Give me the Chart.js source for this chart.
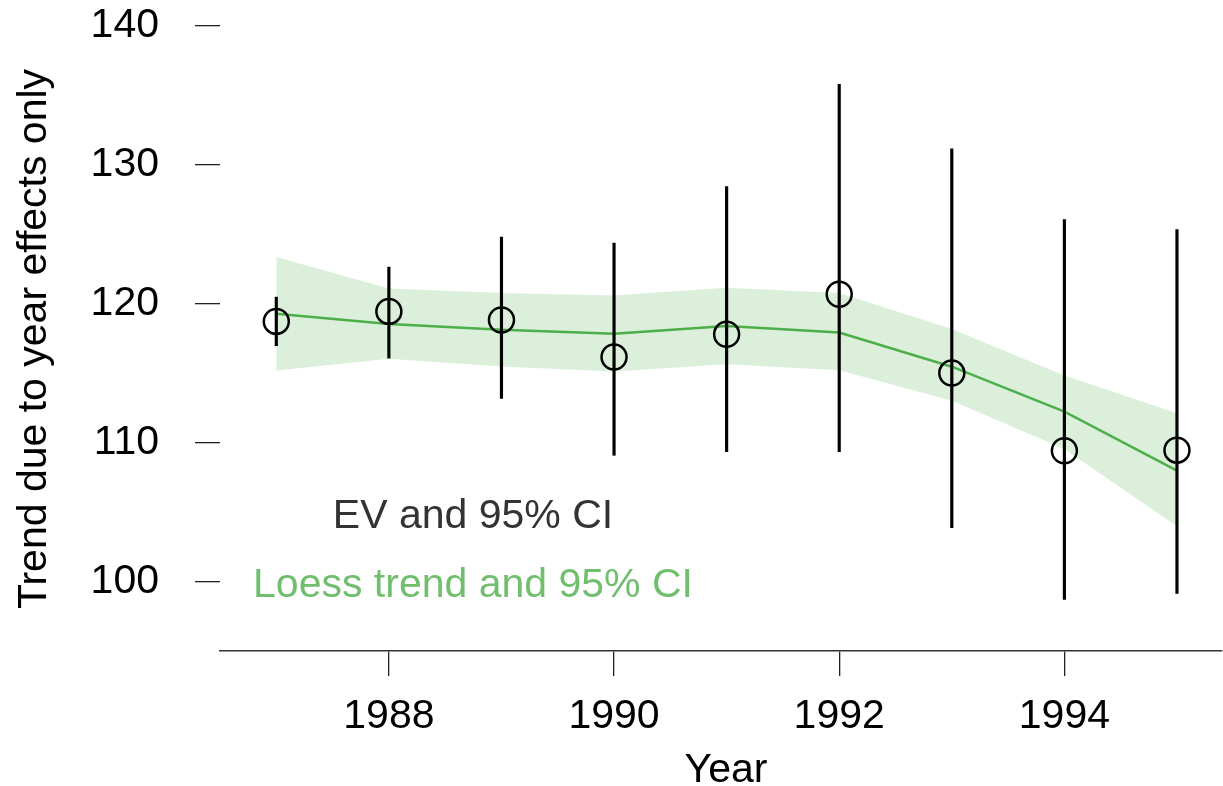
<!DOCTYPE html>
<html>
<head>
<meta charset="utf-8">
<script src="https://cdn.jsdelivr.net/npm/chart.js@4/dist/chart.umd.min.js"></script>
<style>
  html, body { margin: 0; padding: 0; background: #fff; }
  canvas { display: block; }
</style>
</head>
<body>
<canvas id="trendChart" width="1223" height="786"></canvas>
<script>
// year effects: expected value with 95% interval
var years = [1987, 1988, 1989, 1990, 1991, 1992, 1993, 1994, 1995];
var ev = [118.73, 119.45, 118.83, 116.17, 117.80, 120.69, 115.01, 109.42, 109.46];
var evLow = [116.98, 116.09, 113.19, 109.09, 109.35, 109.35, 103.88, 98.71, 99.14];
var evHigh = [120.48, 122.64, 124.80, 124.37, 128.44, 135.80, 131.15, 126.06, 125.34];

// loess smooth and its 95% band
var loess = [119.28, 118.54, 118.13, 117.84, 118.40, 117.93, 115.47, 112.24, 107.99];
var loessLow = [115.20, 116.04, 115.49, 115.13, 115.65, 115.22, 113.02, 109.54, 103.99];
var loessHigh = [123.36, 121.10, 120.77, 120.60, 121.15, 120.77, 118.19, 114.83, 112.12];

var xTicks = [1988, 1990, 1992, 1994];
var yTicks = [100, 110, 120, 130, 140];

var green = '#4daf4a';
var fontFamily = '"Liberation Sans", Arial, Helvetica, sans-serif';

function points(vals) {
    return years.map(function(x, i) { return {x: x, y: vals[i]}; });
}

// legend lines and axis titles, drawn as plain text
var textPlugin = {
    id: 'textPlugin',
    afterDraw: function(chart) {
        var ctx = chart.ctx;
        ctx.save();
        ctx.font = '41px ' + fontFamily;
        ctx.textAlign = 'center';
        ctx.textBaseline = 'alphabetic';

        ctx.fillStyle = '#333333';
        ctx.fillText('EV and 95% CI', 473, 528);
        ctx.fillStyle = 'rgba(77, 175, 74, 0.8)';
        ctx.fillText('Loess trend and 95% CI', 473, 597);

        ctx.fillStyle = '#000';
        ctx.fillText('Year', 726, 782);

        ctx.translate(46, 339);
        ctx.rotate(-Math.PI / 2);
        ctx.fillText('Trend due to year effects only', 0, 0);
        ctx.restore();
    }
};

var ctx = document.getElementById('trendChart').getContext('2d');
var myChart = new Chart(ctx, {
    type: 'line',
    data: {
        datasets: [{
            label: 'EV',
            data: points(ev),
            showLine: false,
            pointStyle: 'circle',
            pointRadius: 12.5,
            pointBorderWidth: 2.5,
            pointBorderColor: '#000',
            pointBackgroundColor: 'rgba(0,0,0,0)',
            order: 0
        }, {
            type: 'bar',
            label: '95% CI',
            data: years.map(function(x, i) { return {x: x, y: [evLow[i], evHigh[i]]}; }),
            backgroundColor: '#000',
            borderWidth: 0,
            barThickness: 2.5,
            order: 1
        }, {
            label: 'Loess trend',
            data: points(loess),
            borderColor: green,
            borderWidth: 2.5,
            pointRadius: 0,
            tension: 0,
            fill: false,
            order: 2
        }, {
            label: 'Loess upper',
            data: points(loessHigh),
            borderWidth: 0,
            borderColor: 'rgba(0,0,0,0)',
            backgroundColor: 'rgba(77, 175, 74, 0.2)',
            pointRadius: 0,
            tension: 0,
            fill: '+1',
            order: 3
        }, {
            label: 'Loess lower',
            data: points(loessLow),
            borderWidth: 0,
            borderColor: 'rgba(0,0,0,0)',
            pointRadius: 0,
            tension: 0,
            fill: false,
            order: 4
        }]
    },
    options: {
        responsive: false,
        devicePixelRatio: 1,
        animation: false,
        layout: {
            autoPadding: false,
            padding: {top: 1, right: 1, left: 0, bottom: 0}
        },
        scales: {
            x: {
                type: 'linear',
                offset: false,
                min: 1986.5,
                max: 1995.4,
                afterBuildTicks: function(scale) {
                    scale.ticks = xTicks.map(function(v) { return {value: v}; });
                },
                afterFit: function(scale) {
                    scale.height = 135;
                    scale.paddingLeft = 0;
                    scale.paddingRight = 0;
                },
                grid: {
                    offset: false,
                    drawOnChartArea: false,
                    tickLength: 25,
                    color: '#222',
                    lineWidth: 1.3
                },
                border: {display: true, color: '#333', width: 1.5},
                ticks: {
                    color: '#000',
                    padding: 20,
                    maxRotation: 0,
                    font: {family: fontFamily, size: 41, lineHeight: 1},
                    callback: function(v) { return String(v); }
                }
            },
            y: {
                type: 'linear',
                min: 95,
                max: 141.8,
                afterBuildTicks: function(scale) {
                    scale.ticks = yTicks.map(function(v) { return {value: v}; });
                },
                afterFit: function(scale) {
                    scale.width = 220;
                    scale.paddingTop = 0;
                    scale.paddingBottom = 0;
                },
                grid: {
                    drawOnChartArea: false,
                    tickLength: 25,
                    color: '#222',
                    lineWidth: 1.3
                },
                border: {display: false},
                ticks: {
                    color: '#000',
                    padding: 36,
                    font: {family: fontFamily, size: 41, lineHeight: 1},
                    callback: function(v) { return String(v); }
                }
            }
        },
        plugins: {
            legend: {display: false},
            tooltip: {enabled: false}
        }
    },
    plugins: [textPlugin]
});
</script>
</body>
</html>
